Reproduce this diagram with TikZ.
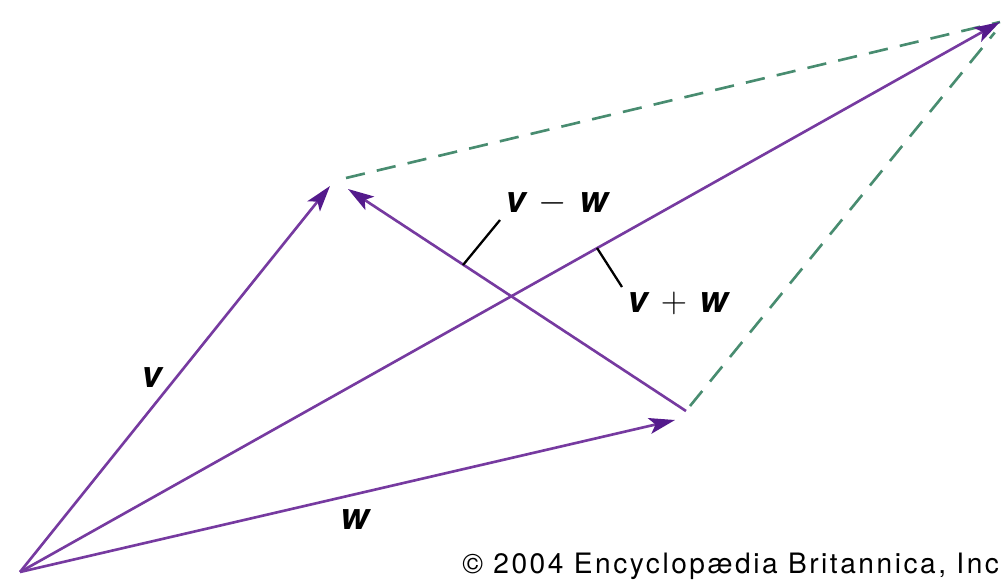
\documentclass[tikz,border=0pt]{standalone}
\usepackage{fontspec}
\setmainfont{TeX Gyre Heros}
\usetikzlibrary{arrows.meta}
\definecolor{vecpurple}{RGB}{118,58,160}
\definecolor{headpurple}{RGB}{84,26,140}
\definecolor{dashgreen}{RGB}{72,140,112}

\begin{document}
\begin{tikzpicture}[
    x=0.02cm, y=-0.02cm,
    vec/.style={-{Stealth[length=0.52cm,width=0.32cm,inset=0.12cm,color=headpurple]}, vecpurple, line width=1.5pt},
    guide/.style={dashgreen, line width=1.5pt, dash pattern=on 11pt off 7pt},
    leader/.style={black, line width=1.3pt},
    lbl/.style={font=\fontsize{21}{24}\selectfont\bfseries\itshape, inner sep=0pt},
    credit/.style={font=\fontsize{16}{18}\selectfont\addfontfeature{LetterSpace=9}, inner sep=0pt, anchor=west}
]
\useasboundingbox (0,0) rectangle (1006,584);

% ---------- POINTS
\coordinate (origin) at (20,572);
\coordinate (vtip) at (330,186);
\coordinate (wtip) at (675,420);
\coordinate (sumtip) at (1000,22);
\coordinate (diffstart) at (686,411);
\coordinate (difftip) at (348,189);

% ---------- PARALLELOGRAM (DASHED)
\coordinate (vcorner) at (346,178);
\coordinate (wcorner) at (690,406);
\draw[guide] (vcorner) -- (sumtip);
\draw[guide] (wcorner) -- ([xshift=-3pt,yshift=-6pt]sumtip);

% ---------- VECTORS
\draw[vec] (origin) -- (vtip);
\draw[vec] (origin) -- (wtip);
\draw[vec] (origin) -- (sumtip);
\draw[vec] (diffstart) -- (difftip);

% ---------- LABELS
\node[lbl] (vlabel) at (152,378) {v};
\node[lbl] (wlabel) at (355,520) {w};
\node[lbl] (difflabel) at (557,203) {v\,\,$-$\,\,w};
\node[lbl] (sumlabel) at (678,303) {v\,\,$+$\,\,w};

% ---------- LEADERS
\coordinate (diffpin) at (463,265);
\coordinate (diffend) at (500,220);
\coordinate (sumpin) at (597,248);
\coordinate (sumend) at (622,287);
\draw[leader] (diffpin) -- (diffend);
\draw[leader] (sumpin) -- (sumend);

% ---------- CREDIT
\node[credit] (credit) at (462,566) {© 2004 Encyclopædia Britannica, Inc};

\end{tikzpicture}
\end{document}
